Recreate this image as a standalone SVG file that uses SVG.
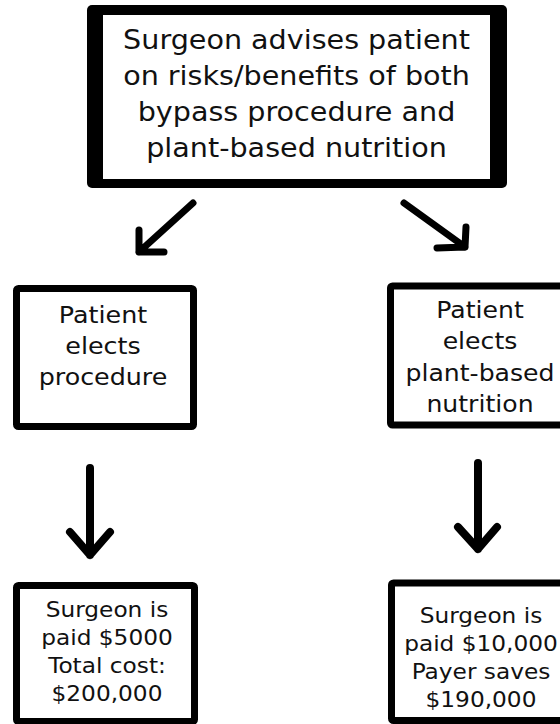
<svg xmlns="http://www.w3.org/2000/svg" width="560" height="724" viewBox="0 0 560 724">
  <style>
    text { font-family: "DejaVu Sans", "Verdana", sans-serif; fill: #111; text-anchor: middle; }
    .t1 { font-size: 26px; }
    .t2 { font-size: 23.5px; }
    .t3 { font-size: 22px; }
    .box { fill: #fff; stroke: #000; stroke-width: 7; }
    .arr { fill: none; stroke: #000; stroke-width: 7; stroke-linecap: round; stroke-linejoin: round; }
  </style>
  <rect width="560" height="724" fill="#fff"/>

  <g id="advise">
    <rect x="87" y="5" width="420" height="183" rx="5" fill="#000"/>
    <rect x="103" y="15" width="387" height="164" fill="#fff"/>
    <g transform="translate(296.5,0) scale(1.1,1)">
      <text class="t1" x="0" y="49.5">Surgeon advises patient</text>
      <text class="t1" x="0" y="85.5">on risks/benefits of both</text>
      <text class="t1" x="0" y="121">bypass procedure and</text>
      <text class="t1" x="0" y="157">plant-based nutrition</text>
    </g>
  </g>

  <g id="procedure">
    <rect class="box" x="16.5" y="288.5" width="177" height="138" rx="2"/>
    <g transform="translate(103,0) scale(1.08,1)">
      <text class="t2" x="0" y="323">Patient</text>
      <text class="t2" x="0" y="354">elects</text>
      <text class="t2" x="0" y="385">procedure</text>
    </g>
  </g>

  <g id="nutrition">
    <rect class="box" x="390.5" y="286" width="200" height="139" rx="2"/>
    <g transform="translate(480,0) scale(1.07,1)">
      <text class="t2" x="0" y="318">Patient</text>
      <text class="t2" x="0" y="349.5">elects</text>
      <text class="t2" x="0" y="381">plant-based</text>
      <text class="t2" x="0" y="412.5">nutrition</text>
    </g>
  </g>

  <g id="cost">
    <rect class="box" x="16.5" y="585.5" width="178" height="136" rx="2"/>
    <g transform="translate(107,0) scale(1.057,1)">
      <text class="t3" x="0" y="617">Surgeon is</text>
      <text class="t3" x="0" y="645">paid $5000</text>
      <text class="t3" x="0" y="673">Total cost:</text>
      <text class="t3" x="0" y="701">$200,000</text>
    </g>
  </g>

  <g id="savings">
    <rect class="box" x="391.5" y="583" width="200" height="137.5" rx="2"/>
    <g transform="translate(481,0) scale(1.057,1)">
      <text class="t3" x="0" y="623">Surgeon is</text>
      <text class="t3" x="0" y="651">paid $10,000</text>
      <text class="t3" x="0" y="679">Payer saves</text>
      <text class="t3" x="0" y="707">$190,000</text>
    </g>
  </g>

  <g id="connectors">
    <path class="arr" d="M193,203 L139,252 M139,230 L139,252 L164,252"/>
    <path class="arr" d="M404,203 L465,247 M466,227 L465,247 L437,248"/>
    <path class="arr" d="M90,468 L90,555 M70,532 L90,555 L110,532" style="stroke-width:8"/>
    <path class="arr" d="M478,463 L478,549 M458,527 L478,549 L497,527" style="stroke-width:8"/>
  </g>
</svg>
